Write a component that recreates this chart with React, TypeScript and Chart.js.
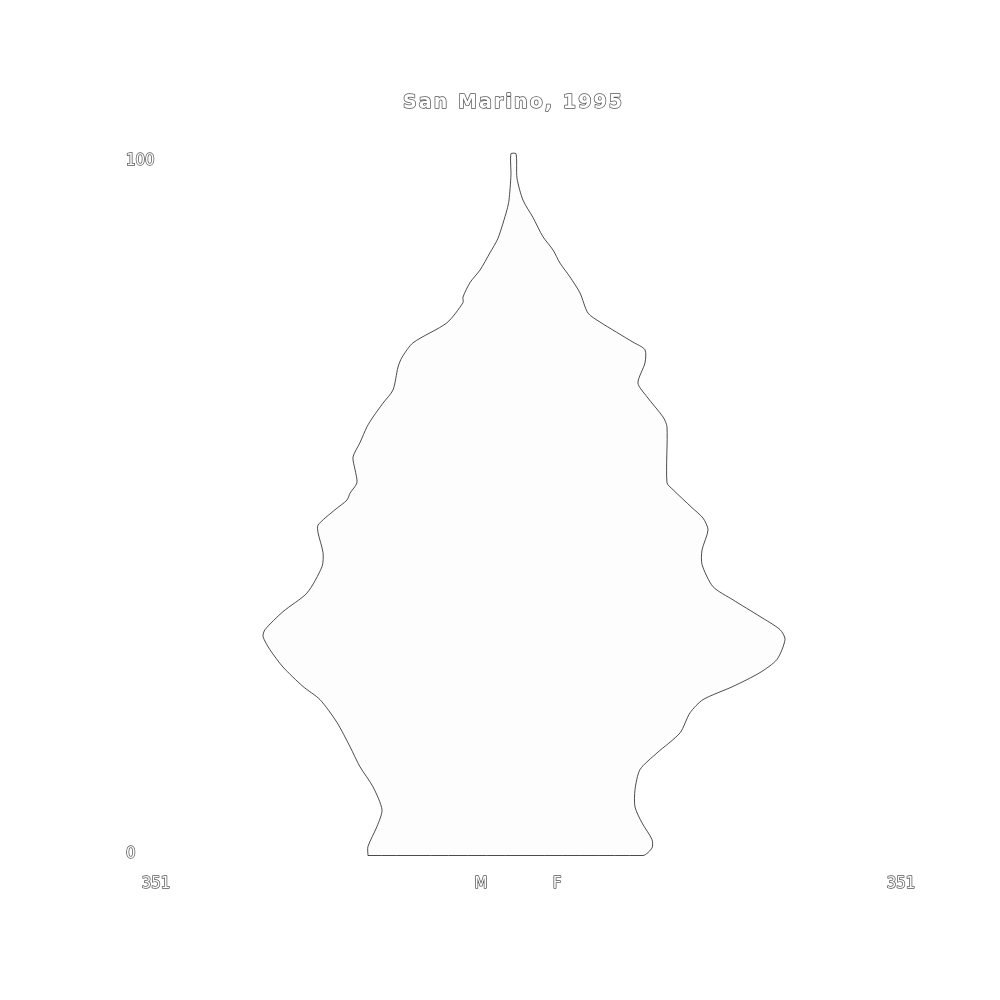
import React, { useEffect, useRef } from "react";
import { Chart, registerables } from "chart.js";

Chart.register(...registerables);

const TITLE = "San Marino, 1995";
const X_MAX = 351;
const X_TICK_LABELS = ["351", "M", "F", "351"];
const Y_TICKS = [0, 100];

// Age positions (years) of the traced outline points
const MALE_AGES = [-0.4, 0.9, 3.8, 6.2, 9.5, 12.4, 15.3, 18.8, 22.1, 24.0, 26.8, 29.3, 31.2, 32.2, 34.8, 37.5, 41.3, 43.3, 46.2, 47.3, 49.5, 50.9, 51.9, 53.4, 55.3, 57.1, 59.2, 61.5, 62.9, 64.9, 66.8, 70.1, 71.5, 73.6, 76.5, 79.4, 80.2, 82.3, 84.1, 86.6, 88.7, 92.8, 94.2, 97.8, 100.9];
const MALE = [142.9, 142.9, 134.0, 129.1, 137.9, 150.7, 160.5, 173.3, 190.0, 206.7, 226.3, 239.1, 245.9, 244.0, 226.3, 202.7, 188.0, 187.0, 191.9, 191.9, 175.3, 163.5, 160.5, 153.7, 155.6, 157.6, 150.7, 143.8, 137.9, 128.1, 118.3, 113.4, 109.5, 98.7, 65.3, 49.6, 49.6, 42.7, 32.9, 23.1, 15.2, 6.4, 4.4, 2.5, 2.5];

const FEMALE_AGES = [-0.4, 0.7, 1.9, 4.3, 6.6, 9.1, 12.0, 14.4, 17.3, 20.2, 22.1, 24.0, 26.0, 27.9, 30.8, 32.2, 34.1, 36.5, 38.4, 41.6, 43.7, 46.6, 48.3, 49.8, 52.4, 53.4, 61.5, 62.9, 65.8, 67.8, 70.7, 72.6, 73.7, 76.6, 77.9, 80.8, 83.1, 85.1, 87.0, 88.9, 91.7, 94.2, 97.4, 100.9];
const FEMALE = [127.1, 136.0, 136.0, 126.2, 119.3, 119.3, 124.2, 140.9, 163.5, 173.3, 186.1, 215.5, 242.0, 258.7, 266.6, 261.7, 242.0, 215.5, 195.9, 185.1, 185.1, 191.0, 186.1, 175.3, 156.6, 150.7, 150.7, 146.8, 131.1, 122.2, 129.1, 129.1, 117.3, 84.9, 73.1, 65.3, 55.5, 45.7, 38.8, 29.0, 19.1, 9.3, 3.4, 2.5];

const FONT = "'DejaVu Sans', sans-serif";
const STROKE = "#555555";

function outlinedText(ctx: CanvasRenderingContext2D, text: string, x: number, y: number, font: string, spacing = 0) {
  ctx.save();
  ctx.font = font;
  (ctx as any).letterSpacing = spacing + "px";
  ctx.textAlign = "center";
  ctx.textBaseline = "middle";
  ctx.lineJoin = "round";
  ctx.strokeStyle = STROKE;
  ctx.lineWidth = 1.5;
  const dx = spacing / 2;
  ctx.strokeText(text, x + dx, y);
  ctx.fillStyle = "#ffffff";
  ctx.fillText(text, x + dx, y);
  ctx.restore();
}

const textPlugin = {
  id: "pyramidText",
  afterDraw(chart: any) {
    const { ctx, chartArea } = chart;
    const cx = (chartArea.left + chartArea.right) / 2;
    outlinedText(ctx, TITLE, cx - 1, chartArea.top - 50, `bold 19px ${FONT}`, 2.1);
    const ly = chartArea.bottom + 29;
    const f = `15px ${FONT}`;
    outlinedText(ctx, X_TICK_LABELS[0], chartArea.left, ly, f);
    outlinedText(ctx, X_TICK_LABELS[1], cx - 32.5, ly, f);
    outlinedText(ctx, X_TICK_LABELS[2], cx + 43.5, ly, f);
    outlinedText(ctx, X_TICK_LABELS[3], chartArea.right + 30, ly, f);
  },
};

export default function App() {
  const ref = useRef<HTMLCanvasElement | null>(null);

  useEffect(() => {
    if (!ref.current) return;
    const pts: { x: number; y: number }[] = [];
    for (let i = 0; i < MALE.length; i++) pts.push({ x: -MALE[i], y: MALE_AGES[i] });
    for (let i = FEMALE.length - 1; i >= 0; i--) pts.push({ x: FEMALE[i], y: FEMALE_AGES[i] });
    pts.push({ x: -MALE[0], y: MALE_AGES[0] });

    const chart = new Chart(ref.current, {
      type: "scatter",
      data: {
        datasets: [
          {
            data: pts,
            showLine: true,
            fill: "shape",
            tension: 0.25,
            pointRadius: 0,
            pointHoverRadius: 0,
            borderColor: "#1e1e1e",
            borderWidth: 0.8,
            backgroundColor: "#fdfdfd",
            clip: 6,
          } as any,
        ],
      },
      options: {
        responsive: false,
        animation: false,
        events: [],
        layout: { padding: { left: 126, right: 129, top: 153, bottom: 144.5 } },
        plugins: { legend: { display: false }, tooltip: { enabled: false }, title: { display: false } },
        scales: {
          x: {
            type: "linear",
            min: -X_MAX,
            max: X_MAX,
            display: false,
          },
          y: {
            type: "linear",
            min: -0.4,
            max: 101,
            grid: { display: false },
            border: { display: false },
            afterBuildTicks: (scale: any) => {
              scale.ticks = Y_TICKS.map((v) => ({ value: v }));
            },
            afterFit: (scale: any) => {
              scale.width = 30;
            },
            ticks: {
              autoSkip: false,
              crossAlign: "far",
              padding: 0,
              labelOffset: 1.5,
              color: "#ffffff",
              textStrokeColor: STROKE,
              textStrokeWidth: 1.5,
              font: { family: FONT, size: 15 },
              callback: (v: any) => String(v),
            },
          },
        },
      },
      plugins: [textPlugin],
    });
    return () => chart.destroy();
  }, []);

  return (
    <div style={{ position: "absolute", left: 0, top: 0, width: 1000, height: 1000, background: "#fff" }}>
      <canvas ref={ref} width={1000} height={1000} style={{ display: "block" }} />
    </div>
  );
}
